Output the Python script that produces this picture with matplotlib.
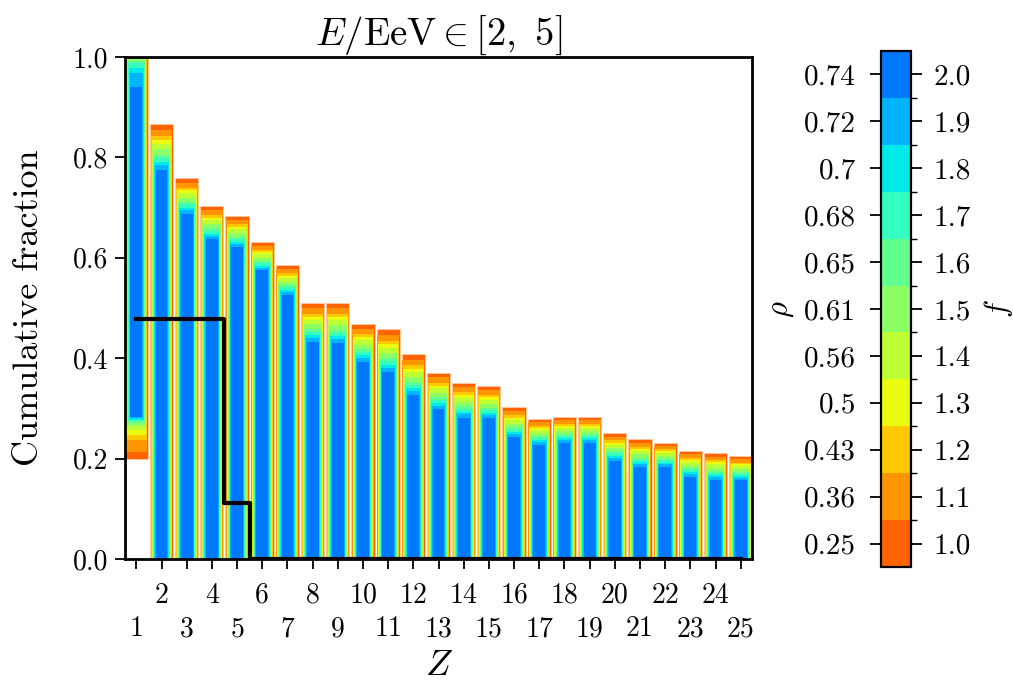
import numpy as np
import matplotlib
matplotlib.use("Agg")
import matplotlib.pyplot as plt
from matplotlib.colors import ListedColormap, BoundaryNorm
import matplotlib.colorbar as mcolorbar

plt.rcParams['font.family'] = 'serif'
plt.rcParams['font.serif'] = ['cmr10', 'DejaVu Serif']
plt.rcParams['mathtext.fontset'] = 'cm'
plt.rcParams['axes.formatter.use_mathtext'] = True

# ---------------- data ----------------
Z = list(range(1, 26))
f_levels = [1.0, 1.1, 1.2, 1.3, 1.4, 1.5, 1.6, 1.7, 1.8, 1.9, 2.0]
f_labels = ['1.0', '1.1', '1.2', '1.3', '1.4', '1.5', '1.6', '1.7', '1.8', '1.9', '2.0']
rho_labels = ['0.25', '0.36', '0.43', '0.5', '0.56', '0.61', '0.65', '0.68', '0.7', '0.72', '0.74']
level_colors = ['#ff6400', '#ff9600', '#ffc800', '#ecfc10', '#befe34', '#8cff64',
                '#60ff90', '#34ffc0', '#00eaea', '#00b4ff', '#0078ff']

# cumulative fraction, top of the f=1.0 (outer) and f=2.0 (inner) bars, Z = 2..25
top_f10 = [0.867, 0.759, 0.703, 0.683, 0.631, 0.586, 0.510, 0.510, 0.468, 0.458,
           0.408, 0.371, 0.351, 0.345, 0.303, 0.279, 0.283, 0.283, 0.251, 0.239,
           0.231, 0.215, 0.211, 0.205]
top_f20 = [0.775, 0.688, 0.637, 0.622, 0.575, 0.525, 0.432, 0.430, 0.393, 0.372,
           0.326, 0.298, 0.281, 0.280, 0.242, 0.228, 0.232, 0.232, 0.196, 0.183,
           0.184, 0.164, 0.158, 0.157]
# relative position of each f level between the outer and inner top
level_drop = [0.0, 0.13, 0.27, 0.35, 0.43, 0.55, 0.67, 0.74, 0.83, 0.90, 1.0]
# Z = 1 bar: explicit range per f level
z1_bottom = [0.199, 0.214, 0.237, 0.247, 0.257, 0.265, 0.270, 0.274, 0.277, 0.280, 0.283]
z1_top = [1.05, 1.04, 1.03, 1.02, 1.01, 0.998, 0.993, 0.988, 0.978, 0.968, 0.940]
# bar width for each f level
level_width = [0.92, 0.87, 0.83, 0.79, 0.75, 0.71, 0.67, 0.63, 0.59, 0.54, 0.47]

# black step line
line_vals = [0.479, 0.479, 0.479, 0.479, 0.111] + [0.0] * 20

# ---------------- figure ----------------
fig = plt.figure(figsize=(10.13, 6.85), dpi=100)
ax = fig.add_axes([0.1234, 0.184, 0.619, 0.7328])

for k, f in enumerate(f_levels):
    tops = [z1_top[k]] + [o - (o - i) * level_drop[k] for o, i in zip(top_f10, top_f20)]
    bottoms = [z1_bottom[k]] + [0.0] * 24
    heights = [t - b for t, b in zip(tops, bottoms)]
    ec = '#ffc8a0' if k == 0 else 'none'
    ax.bar(Z, heights, width=level_width[k], bottom=bottoms, color=level_colors[k],
           edgecolor=ec, linewidth=0.6, zorder=2 + k * 0.01)

ax.step(Z, line_vals, where='mid', color='k', lw=3.0, zorder=5)

ax.set_xlim(0.55, 25.45)
ax.set_ylim(0, 1.0)
ax.set_yticks([0.0, 0.2, 0.4, 0.6, 0.8, 1.0])
ax.set_yticklabels(['0.0', '0.2', '0.4', '0.6', '0.8', '1.0'])
even = [z for z in Z if z % 2 == 0]
odd = [z for z in Z if z % 2 == 1]
ax.set_xticks(even)
ax.set_xticklabels([str(z) for z in even])
ax.set_xticks(odd, minor=True)
ax.set_xticklabels([str(z) for z in odd], minor=True)
ax.tick_params(axis='x', which='major', length=7, width=1.3, pad=10, labelsize=20)
ax.tick_params(axis='x', which='minor', length=7, width=1.3, pad=34, labelsize=20)
ax.tick_params(axis='y', which='major', length=7, width=1.3, pad=5, labelsize=20)
for s in ax.spines.values():
    s.set_linewidth(2.0)
    s.set_zorder(10)

ax.set_ylabel('Cumulative fraction', fontsize=26, labelpad=20)
ax.set_xlabel(r'$Z$', fontsize=26)
ax.xaxis.set_label_coords(0.5, -0.182)
ax.set_title(r'$E/\mathrm{EeV} \in [2,\ 5]$', fontsize=28, pad=9)

# colorbar
cax = fig.add_axes([0.8697, 0.1723, 0.0296, 0.7533])
cmap = ListedColormap(level_colors)
bounds = [f - 0.05 for f in f_levels] + [f_levels[-1] + 0.05]
norm = BoundaryNorm(bounds, cmap.N)
cb = mcolorbar.ColorbarBase(cax, cmap=cmap, norm=norm, boundaries=bounds,
                            ticks=f_levels, orientation='vertical')
cb.outline.set_linewidth(1.6)
cax.set_yticks(f_levels)
cax.set_yticklabels(f_labels)
cax.set_yticks(bounds[1:-1], minor=True)
cax.tick_params(which='major', length=8, width=1.3, labelsize=21, pad=8)
cax.tick_params(which='minor', length=4, width=1.0)
cax.set_ylabel(r'$f$', fontsize=22, labelpad=8)

sec = cax.secondary_yaxis('left')
sec.set_yticks(f_levels)
sec.set_yticklabels(rho_labels)
sec.tick_params(length=8, width=1.3, labelsize=21, pad=10)
sec.set_ylabel(r'$\rho$', fontsize=22, labelpad=6)
sec.spines['left'].set_visible(False)

fig.savefig('out.png', dpi=100)
